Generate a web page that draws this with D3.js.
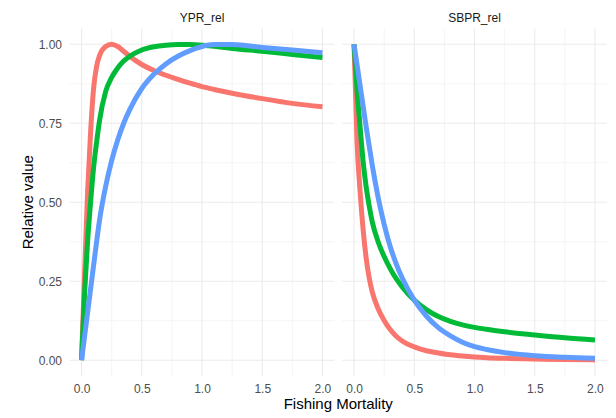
<!DOCTYPE html>
<html>
<head>
<meta charset="utf-8">
<script src="https://cdn.jsdelivr.net/npm/d3@7"></script>
<style>
	body { margin: 0; background: #ffffff; }
	svg { display: block; }
</style>
</head>
<body>
<script>
// fishing mortality grid shared by every curve
var fishingMortality = [0, 0.025, 0.05, 0.075, 0.1, 0.125, 0.15, 0.2, 0.25, 0.3, 0.35, 0.4,
	0.5, 0.6, 0.7, 0.8, 0.9, 1.0, 1.1, 1.25, 1.5, 1.75, 2.0];

var panels = ["YPR_rel", "SBPR_rel"];
var groups = ["a", "b", "c"];

// relative yield per recruit
var yprA = [0, 0.27, 0.53, 0.72, 0.86, 0.93, 0.965, 0.993, 1.0, 0.993, 0.978, 0.962,
	0.936, 0.917, 0.902, 0.889, 0.877, 0.866, 0.857, 0.845, 0.828, 0.813, 0.802];
var yprB = [0, 0.21, 0.375, 0.5, 0.61, 0.69, 0.76, 0.85, 0.895, 0.925, 0.947, 0.962,
	0.982, 0.992, 0.997, 0.999, 0.999, 0.997, 0.994, 0.987, 0.978, 0.968, 0.958];
var yprC = [0, 0.075, 0.15, 0.225, 0.3, 0.375, 0.445, 0.55, 0.632, 0.697, 0.75, 0.793,
	0.86, 0.905, 0.938, 0.962, 0.98, 0.993, 0.999, 0.999, 0.99, 0.982, 0.973];

// relative spawning biomass per recruit
var sbprA = [1.0, 0.69, 0.535, 0.415, 0.325, 0.262, 0.218, 0.163, 0.126, 0.097, 0.076, 0.061,
	0.042, 0.03, 0.023, 0.017, 0.013, 0.01, 0.008, 0.006, 0.004, 0.002, 0.001];
var sbprB = [1.0, 0.855, 0.74, 0.63, 0.55, 0.49, 0.44, 0.375, 0.328, 0.29, 0.258, 0.232,
	0.19, 0.16, 0.138, 0.123, 0.112, 0.104, 0.098, 0.09, 0.08, 0.071, 0.064];
var sbprC = [1.0, 0.935, 0.87, 0.805, 0.74, 0.68, 0.62, 0.515, 0.43, 0.36, 0.305, 0.26,
	0.19, 0.14, 0.103, 0.077, 0.057, 0.043, 0.034, 0.024, 0.014, 0.009, 0.006];

var xTicks = [0, 0.5, 1, 1.5, 2];
var xMinor = [0.25, 0.75, 1.25, 1.75];
var yTicks = [0, 0.25, 0.5, 0.75, 1];
var yMinor = [0.125, 0.375, 0.625, 0.875];

var colors = ["#F8766D", "#00BA38", "#619CFF"];
var seriesByPanel = [[yprA, yprB, yprC], [sbprA, sbprB, sbprC]];

var width = 616,
	height = 418;
var panelLeft = [69.5, 342],
	panelWidth = 265,
	panelTop = 28.5,
	panelBottom = 376;
var font = "'Liberation Sans', Arial, sans-serif";

var svg = d3.select("body").append("svg")
	.attr("width", width)
	.attr("height", height);

var y = d3.scaleLinear()
	.domain([-0.05, 1.05])
	.range([panelBottom, panelTop]);

panels.forEach(function(name, p) {
	var x = d3.scaleLinear()
		.domain([-0.1, 2.1])
		.range([panelLeft[p], panelLeft[p] + panelWidth]);

	var grid = svg.append("g");

	// minor grid first, then major
	grid.selectAll(".vminor").data(xMinor).enter().append("line")
		.attr("x1", function(d) { return x(d); })
		.attr("x2", function(d) { return x(d); })
		.attr("y1", panelTop).attr("y2", panelBottom)
			.style("stroke", "#EBEBEB")
			.style("stroke-width", 0.55);
	grid.selectAll(".hminor").data(yMinor).enter().append("line")
		.attr("x1", x.range()[0]).attr("x2", x.range()[1])
		.attr("y1", function(d) { return y(d); })
		.attr("y2", function(d) { return y(d); })
			.style("stroke", "#EBEBEB")
			.style("stroke-width", 0.55);
	grid.selectAll(".vmajor").data(xTicks).enter().append("line")
		.attr("x1", function(d) { return x(d); })
		.attr("x2", function(d) { return x(d); })
		.attr("y1", panelTop).attr("y2", panelBottom)
			.style("stroke", "#EBEBEB")
			.style("stroke-width", 1.1);
	grid.selectAll(".hmajor").data(yTicks).enter().append("line")
		.attr("x1", x.range()[0]).attr("x2", x.range()[1])
		.attr("y1", function(d) { return y(d); })
		.attr("y2", function(d) { return y(d); })
			.style("stroke", "#EBEBEB")
			.style("stroke-width", 1.1);

	var line = d3.line()
		.x(function(d, i) { return x(fishingMortality[i]); })
		.y(function(d) { return y(d); })
		.curve(d3.curveMonotoneX);

	seriesByPanel[p].forEach(function(values, s) {
		svg.append("path")
			.datum(values)
			.attr("d", line)
				.style("fill", "none")
				.style("stroke", colors[s])
				.style("stroke-width", 5)
				.style("stroke-linejoin", "round");
	});

	// x axis labels
	var xAxis = svg.append("g")
		.attr("transform", "translate(0," + panelBottom + ")")
		.call(d3.axisBottom(x).tickValues(xTicks).tickSize(0).tickPadding(8).tickFormat(d3.format(".1f")));
	xAxis.select(".domain").remove();
	xAxis.selectAll("text")
		.style("font-family", font)
		.style("font-size", "12px")
		.style("fill", "#4D4D4D");

	// strip label
	svg.append("text")
		.attr("x", panelLeft[p] + panelWidth / 2)
		.attr("y", 21.5)
		.attr("text-anchor", "middle")
			.style("font-family", font)
			.style("font-size", "12px")
			.style("fill", "#1A1A1A")
		.text(name);
});

// y axis labels only on the left panel
var yAxis = svg.append("g")
	.attr("transform", "translate(" + panelLeft[0] + ",0)")
	.call(d3.axisLeft(y).tickValues(yTicks).tickSize(0).tickPadding(7.5).tickFormat(d3.format(".2f")));
yAxis.select(".domain").remove();
yAxis.selectAll("text")
	.style("font-family", font)
	.style("font-size", "12px")
	.style("fill", "#4D4D4D");

svg.append("text")
	.attr("x", (panelLeft[0] + panelLeft[1] + panelWidth) / 2)
	.attr("y", 408.5)
	.attr("text-anchor", "middle")
		.style("font-family", font)
		.style("font-size", "15px")
		.style("fill", "#000000")
	.text("Fishing Mortality");

svg.append("text")
	.attr("transform", "translate(32.5," + (panelTop + panelBottom) / 2 + ") rotate(-90)")
	.attr("text-anchor", "middle")
		.style("font-family", font)
		.style("font-size", "15px")
		.style("fill", "#000000")
	.text("Relative value");
</script>
</body>
</html>
